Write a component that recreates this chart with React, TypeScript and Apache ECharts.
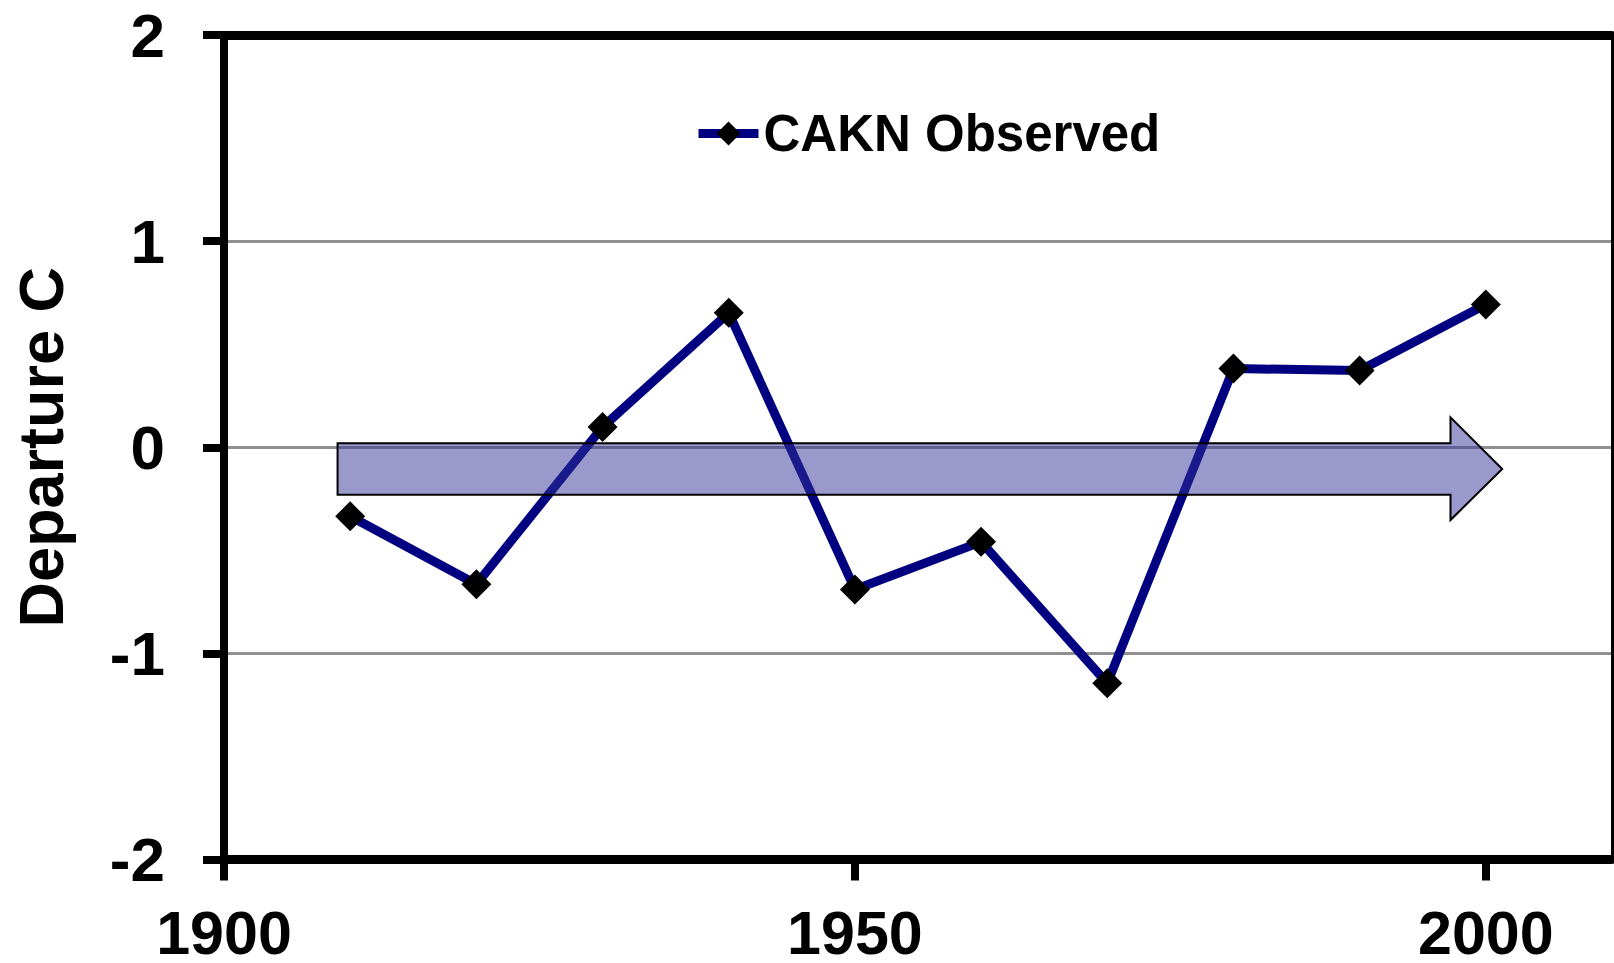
import React, { useEffect, useRef } from "react";
import * as echarts from "echarts";

// Data
const seriesName = "CAKN Observed";
const years = [1910, 1920, 1930, 1940, 1950, 1960, 1970, 1980, 1990, 2000];
const departures = [-0.335, -0.665, 0.098, 0.652, -0.69, -0.459, -1.145, 0.382, 0.372, 0.692];
const xTickValues = [1900, 1950, 2000];
const yTickValues = [-2, -1, 0, 1, 2];
// Arrow: tail x, head base x, tip x (years); body top/bottom and head top/bottom (°C)
const arrowX = [1909, 1997.2, 2001.3];
const arrowBody = [0.019, -0.23];
const arrowHead = [0.145, -0.353];

const FONT = "'Liberation Sans', Arial, sans-serif";

export default function App() {
  const ref = useRef<HTMLDivElement>(null);

  useEffect(() => {
    document.body.style.margin = "0";
    if (!ref.current) return;
    const chart = echarts.init(ref.current, undefined, { renderer: "svg" });

    const option: any = {
      animation: false,
      backgroundColor: "#ffffff",
      grid: { left: 224, right: 2, top: 35, bottom: 102, containLabel: false },
      legend: {
        data: [seriesName],
        left: 689,
        top: 103,
        itemWidth: 60,
        itemHeight: 30,
        itemGap: 4,
        lineStyle: { width: 9, color: "#000080" },
        textStyle: { fontFamily: FONT, fontWeight: "bold", fontSize: 51, color: "#000" },
      },
      xAxis: [
        {
          type: "value",
          min: 1900,
          max: 2010,
          interval: 50,
          position: "bottom",
          axisLine: { onZero: false, lineStyle: { color: "#000", width: 9 } },
          axisTick: { show: true, length: 21, customValues: xTickValues, lineStyle: { color: "#000", width: 8 } },
          axisLabel: {
            customValues: xTickValues,
            formatter: (v: number) => String(v),
            margin: 50,
            lineHeight: 46,
            fontFamily: FONT,
            fontWeight: "bold",
            fontSize: 61,
            color: "#000",
          },
          splitLine: { show: false },
        },
        {
          type: "value",
          min: 1900,
          max: 2010,
          position: "top",
          axisLine: { show: true, onZero: false, lineStyle: { color: "#000", width: 9 } },
          axisTick: { show: false },
          axisLabel: { show: false },
          splitLine: { show: false },
        },
      ],
      yAxis: [
        {
          type: "value",
          min: -2,
          max: 2,
          interval: 1,
          position: "left",
          name: "Departure C",
          nameLocation: "middle",
          nameGap: 152,
          nameTextStyle: { fontFamily: FONT, fontWeight: "bold", fontSize: 63, color: "#000" },
          axisLine: { show: true, onZero: false, lineStyle: { color: "#000", width: 8 } },
          axisTick: { show: true, length: 21, customValues: yTickValues, lineStyle: { color: "#000", width: 8 } },
          axisLabel: {
            margin: 59,
            fontFamily: FONT,
            fontWeight: "bold",
            fontSize: 62,
            color: "#000",
          },
          splitLine: { show: true, lineStyle: { color: "#909090", width: 3 } },
        },
        {
          type: "value",
          min: -2,
          max: 2,
          position: "right",
          axisLine: { show: true, onZero: false, lineStyle: { color: "#000", width: 3 } },
          axisTick: { show: false },
          axisLabel: { show: false },
          splitLine: { show: false },
        },
      ],
      series: [
        {
          name: seriesName,
          type: "line",
          xAxisIndex: 0,
          yAxisIndex: 0,
          data: years.map((y, i) => [y, departures[i]]),
          lineStyle: { color: "#000080", width: 9 },
          itemStyle: { color: "#000000", borderWidth: 0 },
          symbol: "diamond",
          symbolSize: 30,
          z: 3,
        },
        {
          type: "custom",
          xAxisIndex: 0,
          yAxisIndex: 0,
          data: [[arrowX[0], arrowBody[0]]],
          z: 5,
          silent: true,
          renderItem: (_params: any, api: any) => {
            const [x0, x1, x2] = arrowX;
            const [b0, b1] = arrowBody;
            const [h0, h1] = arrowHead;
            const mid = (b0 + b1) / 2;
            const pts = [
              [x0, b0],
              [x1, b0],
              [x1, h0],
              [x2, mid],
              [x1, h1],
              [x1, b1],
              [x0, b1],
            ].map((p) => api.coord(p));
            return {
              type: "polygon",
              shape: { points: pts },
              style: { fill: "rgba(51,51,153,0.5)", stroke: "#000", lineWidth: 2 },
            };
          },
        },
      ],
    };

    chart.setOption(option);
    return () => chart.dispose();
  }, []);

  return <div ref={ref} style={{ width: 1614, height: 963 }} />;
}
